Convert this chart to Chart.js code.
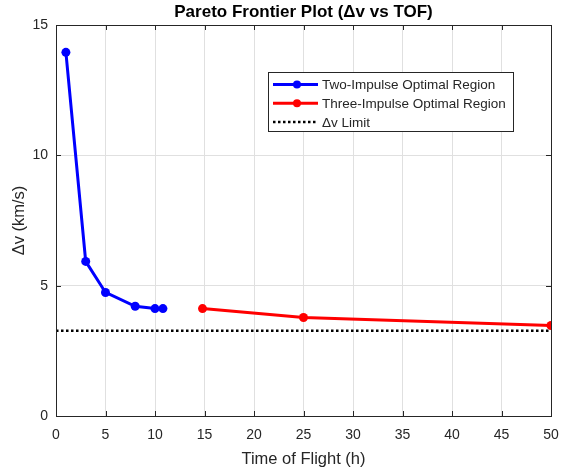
<!DOCTYPE html>
<html>
<head>
<meta charset="utf-8">
<script src="https://cdn.jsdelivr.net/npm/chart.js@4.4.1/dist/chart.umd.min.js"></script>
<style>
  body { margin: 0; background: #fff; }
  #wrap { width: 561px; height: 473px; position: relative; }
</style>
</head>
<body>
<div id="wrap"><canvas id="pareto"></canvas></div>
<script>
// данные
const twoTof = [1, 3, 5, 8, 10, 10.8];
const twoDv = [13.95, 5.93, 4.74, 4.21, 4.12, 4.12];
const threeTof = [14.8, 25, 50];
const threeDv = [4.12, 3.78, 3.47];
const limitDv = 3.27;
const xTicks = [0, 5, 10, 15, 20, 25, 30, 35, 40, 45, 50];
const yTicks = [0, 5, 10, 15];

const FONT = "'Liberation Sans', Arial, sans-serif";
const AXIS = "#262626";

const toPts = (xs, ys) => xs.map((x, i) => ({ x: x, y: ys[i] }));

// рамка, внутренние засечки, заголовок и легенда как в MATLAB
const matlabBox = {
  id: "matlabBox",
  afterDraw(chart) {
    const { ctx, chartArea: a, scales } = chart;
    ctx.save();
    ctx.strokeStyle = AXIS;
    ctx.lineWidth = 1;
    ctx.strokeRect(a.left + 0.5, a.top + 0.5, a.right - a.left, a.bottom - a.top);
    xTicks.forEach((t) => {
      const x = Math.round(scales.x.getPixelForValue(t)) + 0.5;
      ctx.beginPath();
      ctx.moveTo(x, a.bottom); ctx.lineTo(x, a.bottom - 5);
      ctx.moveTo(x, a.top); ctx.lineTo(x, a.top + 5);
      ctx.stroke();
    });
    yTicks.forEach((t) => {
      const y = Math.round(scales.y.getPixelForValue(t)) + 0.5;
      ctx.beginPath();
      ctx.moveTo(a.left, y); ctx.lineTo(a.left + 5, y);
      ctx.moveTo(a.right, y); ctx.lineTo(a.right - 5, y);
      ctx.stroke();
    });

    // заголовок
    ctx.fillStyle = "#000";
    ctx.font = "bold 17px " + FONT;
    ctx.textAlign = "center";
    ctx.textBaseline = "middle";
    ctx.fillText("Pareto Frontier Plot (\u0394v vs TOF)", (a.left + a.right) / 2, 12);

    // легенда
    const lx = 268, ly = 72, lw = 245, lh = 59;
    ctx.fillStyle = "#fff";
    ctx.fillRect(lx, ly, lw, lh);
    ctx.strokeStyle = "#262626";
    ctx.strokeRect(lx + 0.5, ly + 0.5, lw, lh);
    ctx.font = "13.5px " + FONT;
    ctx.textAlign = "left";
    chart.data.datasets.forEach((ds, i) => {
      const y = ly + 12.5 + i * 18.8;
      ctx.strokeStyle = ds.borderColor;
      ctx.lineWidth = ds.borderWidth;
      ctx.setLineDash(ds.borderDash || []);
      ctx.beginPath();
      ctx.moveTo(lx + 5, y); ctx.lineTo(lx + 50, y);
      ctx.stroke();
      ctx.setLineDash([]);
      if (ds.pointRadius > 0) {
        ctx.fillStyle = ds.pointBackgroundColor;
        ctx.beginPath();
        ctx.arc(lx + 29, y, 4, 0, Math.PI * 2);
        ctx.fill();
      }
      ctx.fillStyle = "#262626";
      ctx.fillText(ds.label, lx + 54, y + 1);
    });
    ctx.restore();
  },
};

new Chart(document.getElementById("pareto"), {
  type: "scatter",
  plugins: [matlabBox],
  data: {
    datasets: [
      {
        label: "Two-Impulse Optimal Region",
        data: toPts(twoTof, twoDv),
        showLine: true,
        borderColor: "#0000ff",
        backgroundColor: "#0000ff",
        pointBackgroundColor: "#0000ff",
        borderWidth: 3,
        pointRadius: 4.5,
        pointBorderWidth: 0,
      },
      {
        label: "Three-Impulse Optimal Region",
        data: toPts(threeTof, threeDv),
        showLine: true,
        borderColor: "#ff0000",
        backgroundColor: "#ff0000",
        pointBackgroundColor: "#ff0000",
        borderWidth: 3,
        pointRadius: 4.5,
        pointBorderWidth: 0,
      },
      {
        label: "\u0394v Limit",
        data: [{ x: 0, y: limitDv }, { x: 50, y: limitDv }],
        showLine: true,
        borderColor: "#000",
        borderWidth: 2.5,
        borderDash: [2.5, 2.5],
        pointRadius: 0,
      },
    ],
  },
  options: {
    responsive: true,
    maintainAspectRatio: false,
    animation: false,
    layout: { padding: { top: 25, right: 10, left: 0, bottom: 0 } },
    plugins: {
      legend: { display: false },
      tooltip: { enabled: false },
      title: { display: false },
    },
    scales: {
      x: {
        type: "linear",
        min: 0,
        max: 50,
        afterBuildTicks: (s) => { s.ticks = xTicks.map((v) => ({ value: v })); },
        afterFit: (s) => { s.height = 57; s.paddingRight = 0; },
        grid: { color: "#e0e0e0", drawTicks: false, lineWidth: 1 },
        border: { display: false },
        ticks: { color: AXIS, font: { family: FONT, size: 14 }, padding: 11, maxRotation: 0 },
        title: {
          display: true,
          text: "Time of Flight (h)",
          color: AXIS,
          font: { family: FONT, size: 16.5 },
          padding: { top: 3 },
        },
      },
      y: {
        type: "linear",
        min: 0,
        max: 15,
        afterBuildTicks: (s) => { s.ticks = yTicks.map((v) => ({ value: v })); },
        afterFit: (s) => { s.width = 56; },
        grid: { color: "#e0e0e0", drawTicks: false, lineWidth: 1 },
        border: { display: false },
        ticks: { color: AXIS, font: { family: FONT, size: 14 }, padding: 8 },
        title: {
          display: true,
          text: "\u0394v (km/s)",
          color: AXIS,
          font: { family: FONT, size: 16.5 },
          padding: { top: 10, bottom: 4 },
        },
      },
    },
  },
});
</script>
</body>
</html>
